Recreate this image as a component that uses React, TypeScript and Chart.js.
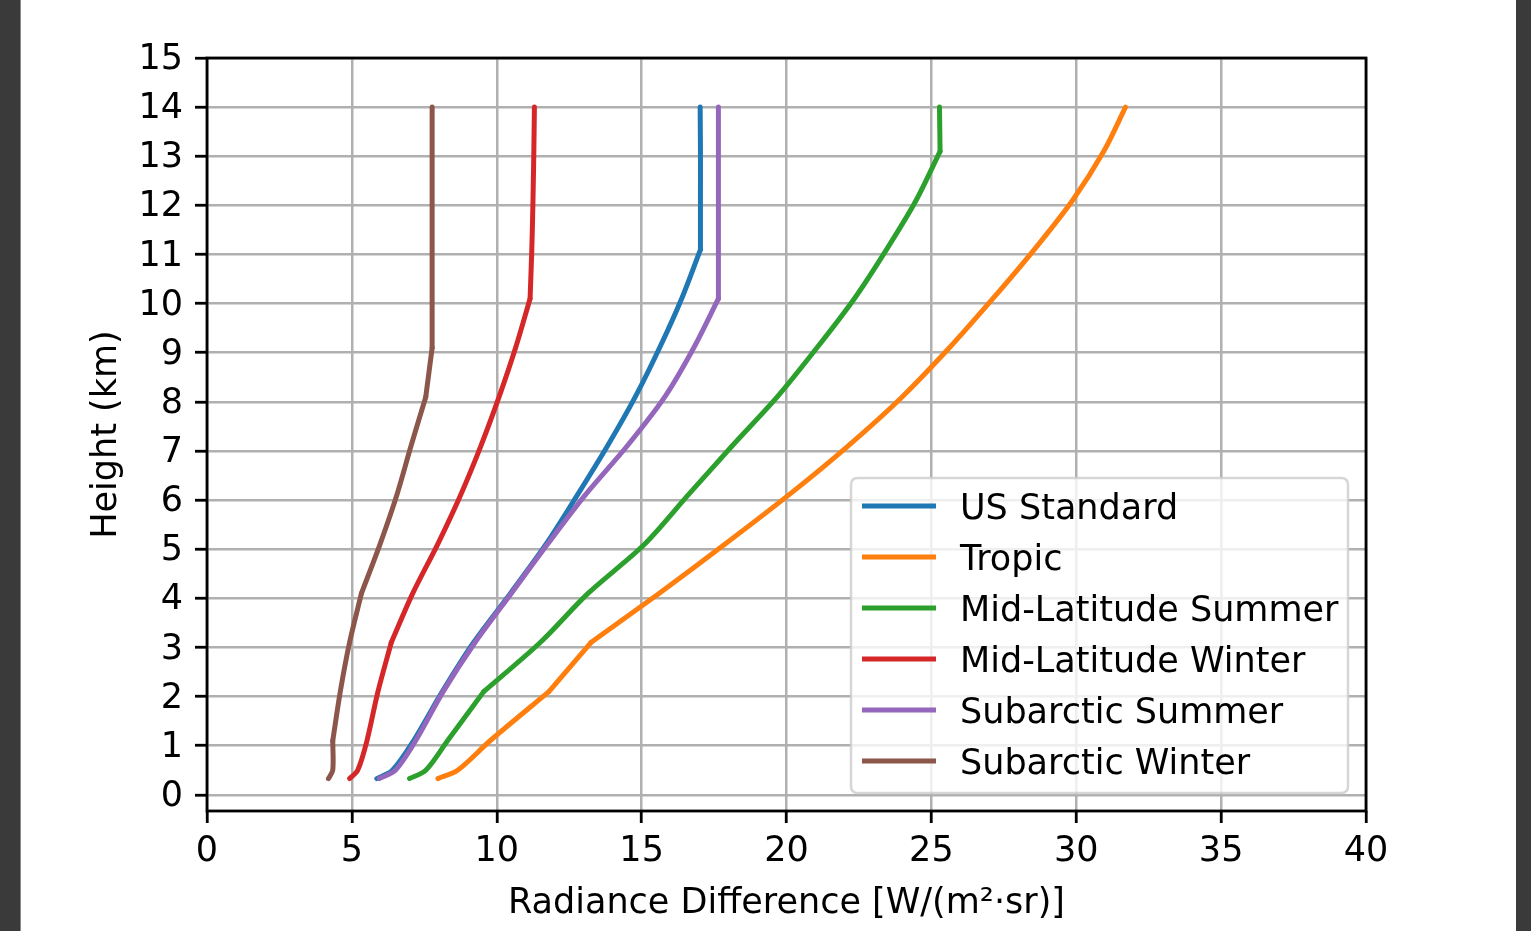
import React, { useEffect, useRef } from 'react';
import { Chart, registerables } from 'chart.js';

Chart.register(...registerables);

// Heights (km) at which each profile is sampled
const heights = [0.33, 0.5, 1.1, 2.1, 3.1, 4.1, 5.1, 6.1, 7.1, 8.1, 9.1, 10.1, 11.1, 12.1, 13.1, 14];

// Radiance difference [W/(m²·sr)] for each atmosphere model
const usStandard = [5.86, 6.4, 7.13, 8.12, 9.2, 10.47, 11.7, 12.78, 13.82, 14.78, 15.62, 16.38, 17.03, 17.03, 17.03, 17.02];
const tropic = [7.97, 8.65, 9.77, 11.8, 13.25, 15.6, 17.87, 20.07, 22.12, 23.99, 25.62, 27.12, 28.55, 29.87, 30.95, 31.7];
const midLatSummer = [6.99, 7.55, 8.3, 9.55, 11.5, 13.15, 15.1, 16.6, 18.12, 19.68, 21.05, 22.34, 23.45, 24.47, 25.3, 25.28];
const midLatWinter = [4.92, 5.2, 5.52, 5.9, 6.36, 7.1, 7.96, 8.75, 9.45, 10.08, 10.65, 11.15, 11.21, 11.25, 11.28, 11.3];
const subarcticSummer = [5.95, 6.5, 7.2, 8.15, 9.25, 10.5, 11.75, 13.05, 14.5, 15.8, 16.8, 17.65, 17.65, 17.65, 17.65, 17.65];
const subarcticWinter = [4.19, 4.34, 4.34, 4.6, 4.92, 5.33, 5.97, 6.55, 7.04, 7.55, 7.77, 7.77, 7.77, 7.77, 7.77, 7.77];

// Indices (into heights) where each profile has a sharp bend
const usStandardBends = [12];
const tropicBends = [3, 4];
const midLatSummerBends = [3, 14];
const midLatWinterBends = [4, 11];
const subarcticSummerBends = [11];
const subarcticWinterBends = [2, 5, 9, 10];

const seriesLabels = ['US Standard', 'Tropic', 'Mid-Latitude Summer', 'Mid-Latitude Winter', 'Subarctic Summer', 'Subarctic Winter'];
const seriesValues = [usStandard, tropic, midLatSummer, midLatWinter, subarcticSummer, subarcticWinter];
const seriesBends = [usStandardBends, tropicBends, midLatSummerBends, midLatWinterBends, subarcticSummerBends, subarcticWinterBends];
const seriesColors = ['#1f77b4', '#ff7f0e', '#2ca02c', '#d62728', '#9467bd', '#8c564b'];

const xTicks = [0, 5, 10, 15, 20, 25, 30, 35, 40];
const yTicks = [0, 1, 2, 3, 4, 5, 6, 7, 8, 9, 10, 11, 12, 13, 14, 15];

const FONT = '"DejaVu Sans", "Liberation Sans", sans-serif';
const FS = 35;

const spinesPlugin = {
  id: 'spines',
  afterDatasetsDraw(chart: any) {
    const { ctx, chartArea: ca } = chart;
    ctx.save();
    ctx.strokeStyle = '#000';
    ctx.lineWidth = 2.8;
    ctx.lineJoin = 'miter';
    ctx.strokeRect(ca.left, ca.top, ca.right - ca.left, ca.bottom - ca.top);
    ctx.restore();
  },
};

const legendPlugin = {
  id: 'mplLegend',
  afterDraw(chart: any) {
    const { ctx, chartArea: ca } = chart;
    const w = 497;
    const h = 315;
    const right = ca.right - 18;
    const bottom = ca.bottom - 18;
    const left = right - w;
    const top = bottom - h;
    const r = 7;
    ctx.save();
    ctx.beginPath();
    ctx.moveTo(left + r, top);
    ctx.lineTo(right - r, top);
    ctx.quadraticCurveTo(right, top, right, top + r);
    ctx.lineTo(right, bottom - r);
    ctx.quadraticCurveTo(right, bottom, right - r, bottom);
    ctx.lineTo(left + r, bottom);
    ctx.quadraticCurveTo(left, bottom, left, bottom - r);
    ctx.lineTo(left, top + r);
    ctx.quadraticCurveTo(left, top, left + r, top);
    ctx.closePath();
    ctx.fillStyle = 'rgba(255,255,255,0.8)';
    ctx.fill();
    ctx.strokeStyle = 'rgba(204,204,204,0.8)';
    ctx.lineWidth = 2.5;
    ctx.stroke();
    ctx.font = `${FS}px ${FONT}`;
    ctx.textAlign = 'left';
    ctx.textBaseline = 'alphabetic';
    seriesLabels.forEach((label, i) => {
      const y = top + 28 + 51 * i;
      ctx.strokeStyle = seriesColors[i];
      ctx.lineWidth = 5;
      ctx.lineCap = 'butt';
      ctx.beginPath();
      ctx.moveTo(left + 11, y);
      ctx.lineTo(left + 85, y);
      ctx.stroke();
      ctx.fillStyle = '#000';
      ctx.fillText(label, left + 109, y + 12.7);
    });
    ctx.restore();
  },
};

function buildDatasets() {
  const out: any[] = [];
  seriesLabels.forEach((label, i) => {
    const vals = seriesValues[i];
    const cuts = [0, ...seriesBends[i], heights.length - 1];
    for (let p = 0; p < cuts.length - 1; p++) {
      const data = [];
      for (let j = cuts[p]; j <= cuts[p + 1]; j++) data.push({ x: vals[j], y: heights[j] });
      out.push({
        label,
        data,
        borderColor: seriesColors[i],
        backgroundColor: seriesColors[i],
        borderWidth: 5,
        pointRadius: 0,
        pointHoverRadius: 0,
        showLine: true,
        fill: false,
        tension: 0.3,
        borderCapStyle: 'round',
        borderJoinStyle: 'round',
        order: seriesLabels.length - i,
      });
    }
  });
  return out;
}

export default function App() {
  const canvasRef = useRef<HTMLCanvasElement | null>(null);

  useEffect(() => {
    const canvas = canvasRef.current;
    if (!canvas) return;
    Chart.defaults.font.family = FONT;
    Chart.defaults.color = '#000';

    const chart = new Chart(canvas, {
      type: 'scatter',
      data: { datasets: buildDatasets() },
      options: {
        responsive: false,
        animation: false,
        devicePixelRatio: 1,
        layout: { padding: { left: 30, right: 165, top: 58, bottom: 0 } },
        plugins: {
          legend: { display: false },
          tooltip: { enabled: false },
          title: { display: false },
        },
        scales: {
          x: {
            type: 'linear',
            position: 'bottom',
            min: 0,
            max: 40,
            afterBuildTicks: (scale: any) => {
              scale.ticks = xTicks.map((v) => ({ value: v }));
            },
            afterFit: (scale: any) => {
              scale.height = 120;
            },
            ticks: {
              autoSkip: false,
              maxRotation: 0,
              padding: 8,
              color: '#000',
              font: { size: FS, family: FONT, lineHeight: 1.2 },
            },
            grid: {
              color: '#b0b0b0',
              lineWidth: 2.5,
              drawTicks: true,
              tickLength: 12,
              tickColor: '#000',
              tickWidth: 2.8,
            },
            border: { display: false },
            title: {
              display: true,
              text: 'Radiance Difference [W/(m²·sr)]',
              color: '#000',
              font: { size: FS, family: FONT, lineHeight: 1.2 },
              padding: { top: 0, bottom: 6 },
            },
          },
          y: {
            type: 'linear',
            position: 'left',
            min: -0.33,
            max: 15,
            afterBuildTicks: (scale: any) => {
              scale.ticks = yTicks.map((v) => ({ value: v }));
            },
            afterFit: (scale: any) => {
              scale.width = 177;
            },
            ticks: {
              autoSkip: false,
              padding: 12,
              labelOffset: 2,
              color: '#000',
              font: { size: FS, family: FONT, lineHeight: 1.2 },
            },
            grid: {
              color: '#b0b0b0',
              lineWidth: 2.5,
              drawTicks: true,
              tickLength: 12,
              tickColor: '#000',
              tickWidth: 2.8,
            },
            border: { display: false },
            title: {
              display: true,
              text: 'Height (km)',
              color: '#000',
              font: { size: FS, family: FONT, lineHeight: 1.2 },
              padding: { top: 56, bottom: 0 },
            },
          },
        },
      },
      plugins: [spinesPlugin, legendPlugin],
    } as any);

    return () => {
      chart.destroy();
    };
  }, []);

  return (
    <div style={{ position: 'fixed', left: 0, top: 0, width: 1531, height: 931, background: '#fff', overflow: 'hidden' }}>
      <canvas ref={canvasRef} width={1531} height={931} style={{ display: 'block', position: 'absolute', left: 0, top: 0 }} />
      <div style={{ position: 'absolute', left: 0, top: 0, width: 20, height: 931, background: '#3a3a3a', borderRight: '1px solid #8a8a8a' }} />
      <div style={{ position: 'absolute', left: 1516, top: 0, width: 15, height: 931, background: '#3a3a3a' }} />
    </div>
  );
}
